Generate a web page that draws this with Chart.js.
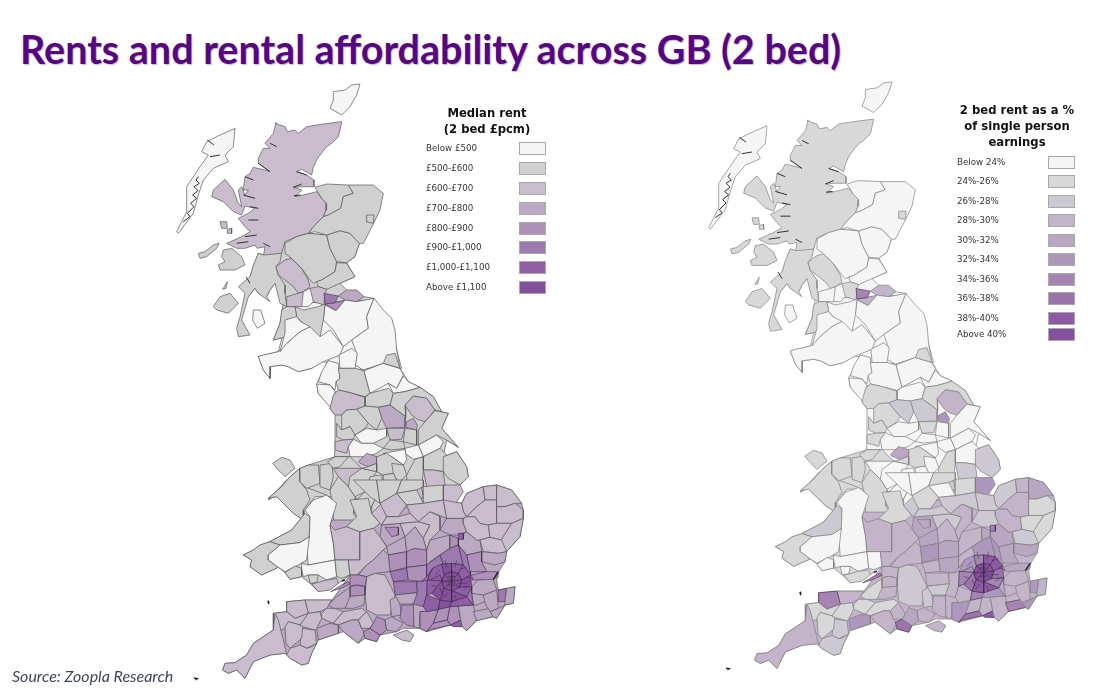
<!DOCTYPE html>
<html>
<head>
<meta charset="utf-8">
<title>Rents and rental affordability across GB (2 bed)</title>
<script src="https://cdn.jsdelivr.net/npm/chart.js@4"></script>
<style>
  html, body { margin: 0; padding: 0; background: #fff; }
  #page { position: relative; width: 1101px; height: 695px; overflow: hidden; }
  #page canvas { position: absolute; filter: blur(0.45px); }
  .title { position: absolute; white-space: nowrap; color: #57067f;
    font: bold 39.5px/48px Lato, sans-serif; text-shadow: 1px 1px 1px rgba(90,60,120,.35); }
  .source { position: absolute; white-space: nowrap; color: #3b4656;
    font: italic 16px/20px Lato, sans-serif; filter: blur(0.25px); }
  .legendTitle { position: absolute; text-align: center; color: #111;
    font: bold 11.6px/16px "DejaVu Sans", sans-serif; transform: translateX(-50%); white-space: nowrap; filter: blur(0.3px); }
  .legendLabel { position: absolute; color: #333; white-space: nowrap; font: 8.7px/12px "DejaVu Sans", sans-serif; filter: blur(0.3px); }
  .legendBox { position: absolute; width: 25px; height: 11px; border: 1px solid #a8a8a8; filter: blur(0.3px); }
</style>
</head>
<body>
<div id="page"></div>
<script>
// legend text
const rentLabels = ['Below £500', '£500-£600', '£600-£700', '£700-£800', '£800-£900', '£900-£1,000', '£1,000-£1,100', 'Above £1,100']
const shareLabels = ['Below 24%', '24%-26%', '26%-28%', '28%-30%', '30%-32%', '32%-34%', '34%-36%', '36%-38%', '38%-40%', 'Above 40%']

// band colours, lowest to highest
const rentColours = ['#f5f5f5', '#d0d0d0', '#c8bccd', '#bba8c3', '#ae90b9', '#9c7ab0', '#8f5fa6', '#85509b']
const shareColours = ['#f5f5f5', '#d8d8d8', '#cdc9d2', '#c4b4ca', '#b9a6c2', '#ae97bd', '#a584b3', '#9a74ab', '#8d5ba3', '#85509c']

// district outlines, one list per traced sheet
// each sheet is x,y in sheet units, 3 units = 1 map unit
const northOrigin = [170, 80]
const midOrigin = [240, 300]
const southOrigin = [210, 480]

// land under the districts, so no gaps show between them
const northBase = ['282,525 345,490 415,460 470,465 568,490 555,530 530,548 555,590 510,610 530,630 582,650 612,655 590,710 545,780 460,720 415,750 350,770 310,780 330,730 345,640 315,610 300,630 290,650 265,640 255,625 235,650 240,590 265,520']
const northBaseRent = [1]
const northBaseShare = [0]
const midBase = [
  '175,10 400,0 430,40 455,90 470,150 485,205 430,200 345,210 300,240 285,190 245,185 215,205 175,215 145,200 125,195 90,200 90,235 70,210 55,170 115,155 140,60',
  '230,252 265,182 300,205 372,212 480,205 505,245 540,262 490,285 390,290 285,275 275,325 235,280',
  '270,325 285,285 375,290 540,262 580,290 605,335 625,340 605,385 655,442 620,420 610,470 650,455 680,500 685,530 660,555 640,620 360,660 340,640 270,570 280,505 285,450 285,345',
  '150,530 180,505 205,495 285,470 330,470 365,505 345,590 360,660 190,660 160,640 110,590 85,595 125,560'
]
const midBaseRent = [0, 0, 1, 1]
const midBaseShare = [0, 0, 0, 1]
const southBase = [
  '175,60 215,35 245,40 255,100 285,100 245,150 180,185 150,195 130,210 100,225 125,240 120,260 155,285 205,262 225,278 240,298 275,290 300,310 325,335 385,310 420,285 420,100 380,70 350,45 230,0',
  '355,375 365,360 285,360 230,365 230,395 190,400 190,450 130,490 110,525 75,548 45,550 38,570 55,580 80,570 105,595 120,565 130,545 180,525 225,520 240,535 275,555 295,550 305,520 320,490 325,480 385,460 400,455 445,490 465,475 500,485 510,465 560,455 580,445 628,445 650,455 722,435 757,440 770,452 800,422 850,410 860,415 885,375 910,370 915,320 865,330 860,300 868,272 885,245 890,215 930,170 940,115 940,90 935,70 905,30 860,15 820,20 770,40 755,70 700,60 620,50 480,50 420,60 380,70 360,135 375,240 420,285'
]
const southBaseRent = [1, 3]
const southBaseShare = [1, 3]

const northPaths = [
  '490,35 525,30 545,15 570,12 560,45 540,80 515,105 480,85 490,60',
  '195,145 190,200 165,225 175,245 130,265 100,300 85,345 70,400 25,460 20,455 50,395 50,320 90,260 115,225 95,215 110,185 150,165',
  '315,128 330,135 345,140 352,155 375,150 385,160 410,140 440,135 475,130 515,125 510,150 505,170 485,190 470,200 450,225 440,240 430,262 425,285 395,268 380,275 410,285 432,300 432,320 400,320 370,322 395,330 375,350 400,345 440,335 455,355 470,370 468,390 460,410 435,435 415,460 380,470 345,485 335,520 300,528 280,530 285,500 262,505 255,495 225,505 200,505 170,490 215,470 240,455 225,440 205,415 235,400 255,385 225,378 215,405 190,395 160,365 125,350 130,330 165,298 190,330 205,370 215,380 205,330 215,320 225,345 235,330 220,330 225,290 240,280 250,262 285,270 300,275 265,250 265,235 280,205 300,205 285,190 310,160 318,130',
  '150,425 170,425 172,445 155,445',
  '172,448 185,445 185,460 172,460',
  '85,520 105,515 130,495 147,490 140,505 110,530 90,535',
  '160,510 185,505 215,530 225,555 195,570 150,570 145,555 165,545 155,530',
  '130,680 150,650 180,640 205,670 175,700 140,690',
  '158,628 172,605 168,625',
  '282,525 335,520 330,545 318,560 325,585 345,615 345,640 350,680 330,670 315,610 300,630 290,650 300,665 265,640 255,625 235,650 215,720 240,765 205,770 200,745 210,710 225,640 205,620 240,590 250,555 265,520',
  '318,560 345,540 365,535 395,565 415,600 420,620 400,635 385,640 370,620 345,600 325,585',
  '345,490 380,470 415,460 470,465 480,505 500,545 495,575 455,600 430,610 420,600 395,565 365,535 345,520',
  '470,465 510,452 540,460 568,490 555,530 530,548 500,545 480,505',
  '500,548 530,550 555,590 510,610 470,628 445,620 440,605 455,600 495,575',
  '435,322 470,312 535,315 550,340 520,350 512,385 475,405 460,410 468,390 470,370 455,355',
  '535,315 610,315 640,340 630,390 610,432 580,490 568,490 540,460 510,452 470,465 435,455 415,460 435,435 460,410 475,405 512,385 520,350 550,340',
  '590,405 612,405 610,430 588,425',
  '420,625 445,620 470,628 465,640 462,675 430,665 415,650',
  '465,672 495,668 525,660 498,692',
  '462,640 505,648 495,668 465,672',
  '505,648 530,630 560,630 582,650 560,665 525,660',
  '465,675 498,692 525,660 560,665 612,655 590,710 595,745 545,780 520,800 490,750 460,720',
  '612,655 640,690 665,715 675,750 680,810 690,865 640,850 580,870 555,855 560,820 545,780 595,745 590,710',
  '375,680 400,690 445,680 465,672 460,720 450,772 415,750 380,710',
  '350,650 385,640 400,635 410,640 395,680 375,680 350,680',
  '400,635 420,625 430,665 415,680 395,680',
  '350,680 375,680 380,710 360,730 350,770 310,780 330,730 335,690',
  '250,690 272,690 285,730 262,745 248,720'
]
const northRent = [0, 0, 2, 2, 2, 1, 1, 1, 1, 1, 2, 1, 1, 1, 1, 1, 1, 2, 4, 5, 3, 0, 0, 1, 2, 0, 1, 0]
const northShare = [0, 0, 1, 1, 1, 1, 1, 1, 1, 1, 1, 0, 0, 0, 0, 0, 1, 1, 3, 6, 3, 0, 0, 0, 0, 0, 1, 0]

const midPaths = [
  '210,80 240,110 270,90 310,140 300,165 250,185 215,205 175,215 145,200 125,195 90,200 90,235 70,210 55,170 70,165 115,155 140,130 180,95',
  '135,60 170,50 182,65 210,80 180,95 140,130 120,155 135,100',
  '297,165 335,145 352,160 345,205 300,205',
  '265,182 295,190 300,235 288,245 285,270 270,255 235,245 245,215',
  '230,252 270,255 285,275 275,325 260,310 235,280',
  '295,205 345,205 372,212 390,280 375,290 330,278 295,270 288,245 300,235',
  '372,212 430,190 480,205 490,225 470,265 445,250 390,280',
  '430,190 440,165 465,160 480,205',
  '445,250 470,265 490,228 505,245 540,262 495,275 460,280',
  '375,292 390,280 445,265 460,280 450,315 415,322 375,318',
  '280,285 295,270 330,278 375,292 375,318 350,328 320,330 305,345 285,345 270,325',
  '450,315 460,280 495,275 540,262 580,290 605,335 585,330 560,295 520,288 495,315 497,350',
  '495,315 520,288 560,295 585,330 555,365 532,358 515,345',
  '415,322 450,315 497,350 495,382 440,385 425,355',
  '497,382 500,365 520,355 532,375 530,390',
  '535,390 555,365 585,332 625,340 605,385 640,425 655,442 620,420 590,405 535,435',
  '350,328 375,318 415,322 425,355 410,390 385,370',
  '305,345 320,330 350,328 385,370 375,385 345,405 330,380 305,390',
  '380,385 410,390 440,385 440,410 400,430 365,430 345,405',
  '440,385 495,385 485,418 450,420',
  '495,385 530,390 530,435 490,425',
  '290,370 305,390 330,380 345,405 340,418 310,420 290,410',
  '285,425 310,420 340,418 325,440 320,460 285,450',
  '325,440 340,418 365,430 400,430 430,445 410,460 380,470 330,470',
  '430,445 450,420 490,425 495,445 455,450',
  '535,435 590,405 610,425 600,445 550,470',
  '495,445 535,435 550,470 520,478 495,460',
  '430,460 495,448 500,480 490,495 455,470',
  '550,470 600,445 620,465 610,515 580,510 550,510',
  '610,470 650,455 680,500 685,530 660,555 625,535 610,515',
  '355,485 380,460 410,470 410,490 385,500 360,490',
  '98,490 125,472 150,480 165,505 135,530 115,510',
  '85,595 125,560 150,530 180,505 180,545 200,570 210,600 190,630 190,660 160,640 130,610 110,590',
  '180,505 205,495 235,495 240,550 200,565 180,545',
  '240,495 275,490 280,530 270,570 240,560',
  '262,485 285,470 325,470 300,500 280,505',
  '280,505 365,505 325,560 295,530',
  '270,570 295,530 325,560 345,590 340,640 360,660 280,660 275,600',
  '330,530 365,505 410,515 390,545 375,575 345,590 325,560',
  '195,630 225,590 275,590 280,660 190,660',
  '410,470 440,460 455,470 490,495 460,520 430,525 410,515',
  '365,505 385,500 410,490 410,515',
  '390,530 425,525 430,565 410,590 380,575',
  '455,490 490,495 500,525 475,550 460,520',
  '430,525 460,520 475,550 470,590 445,610 430,565',
  '500,525 525,478 550,470 550,510 545,560 510,565 500,545',
  '550,510 580,510 610,515 615,555 590,575 560,560',
  '470,590 495,590 510,565 545,560 550,590 495,625 475,620',
  '545,560 590,575 600,610 560,620 550,590',
  '615,555 660,555 670,575 640,620 610,610 590,575',
  '350,600 375,575 410,590 395,620 365,630',
  '395,620 410,590 430,565 445,610 430,640 395,650',
  '340,640 365,630 395,650 380,665 355,660'
]
const midRent = [0, 0, 0, 0, 0, 1, 0, 1, 0, 1, 2, 1, 2, 3, 3, 1, 1, 1, 0, 2, 1, 1, 2, 0, 1, 0, 0, 0, 1, 1, 3, 1, 1, 1, 1, 1, 2, 1, 1, 0, 1, 1, 1, 1, 1, 1, 2, 2, 1, 2, 1, 1, 1]
const midShare = [0, 0, 0, 0, 0, 0, 0, 1, 0, 0, 1, 1, 3, 2, 5, 0, 2, 1, 0, 1, 0, 1, 1, 0, 0, 0, 0, 0, 0, 2, 4, 1, 1, 1, 1, 1, 0, 1, 0, 0, 1, 1, 0, 0, 0, 1, 2, 2, 2, 5, 0, 0, 1]

const southPaths = [
  '180,185 245,150 285,100 300,110 298,170 270,188 210,195',
  '285,90 310,60 350,45 380,70 360,135 370,190 375,240 295,255 290,200 298,170 300,110',
  '100,225 130,210 150,195 180,185 210,195 175,225 175,240 205,262 155,285 120,260 125,240',
  '175,225 210,195 270,188 298,170 290,240 265,255 225,275 205,262 175,240',
  '225,278 255,258 275,265 275,290 240,298',
  '275,250 295,255 375,240 380,290 350,300 325,285 295,285 280,290 275,265',
  '295,285 325,285 320,308 300,310',
  '305,312 320,308 350,300 380,295 385,310 360,330 325,335',
  '370,190 360,135 375,150 410,140 450,155 450,240 415,240 375,240',
  '375,240 415,240 420,285 395,295 380,290',
  '420,60 475,55 485,100 510,130 490,145 450,155 410,140 440,110',
  '485,100 515,70 530,110 515,135 510,130',
  '450,155 490,145 510,170 530,200 520,210 490,240 470,255 440,285 420,285 415,240 450,240',
  '515,135 570,130 585,170 535,205 510,170',
  '525,142 565,142 565,165 545,170',
  '530,200 585,170 590,215 535,225',
  '535,225 590,215 590,262 540,275',
  '490,240 520,210 535,225 540,275 495,280 470,290 445,285 470,255',
  '540,275 590,265 595,300 550,305',
  '550,305 620,305 622,338 555,345',
  '590,215 612,205 650,210 650,255 590,262',
  '590,262 650,255 650,290 635,305 595,300',
  '585,170 615,140 640,175 650,210 612,205 590,215',
  '570,130 625,125 660,135 640,175 615,140 585,170',
  '625,125 660,95 690,110 690,150 660,180 650,210 640,175 660,135',
  '650,210 660,180 720,165 720,205 690,225 660,245 650,255',
  '690,150 710,115 760,115 760,130 770,155 745,165 720,165',
  '770,155 800,180 810,180 815,215 770,225 745,195 745,175',
  '720,165 745,175 745,195 720,205',
  '760,115 770,110 795,110 810,130 835,135 840,172 810,180 800,180 770,155 760,130',
  '755,70 770,40 820,20 825,60 800,80 770,110 760,95',
  '825,60 820,20 860,15 860,60',
  '800,80 825,60 860,60 860,130 835,135 810,130 795,110 770,110',
  '860,60 860,15 905,30 935,70 915,70 885,80 860,80',
  '860,80 885,80 915,70 940,90 940,115 905,130 860,130',
  '835,135 860,130 905,130 875,180 840,172',
  '905,130 940,115 930,170 890,215 870,185',
  '810,180 840,172 875,180 890,215 865,220 820,215',
  '815,215 865,220 890,215 885,245 855,255 815,245',
  '770,225 815,215 815,245 830,275 780,275',
  '785,285 830,275 860,275 865,290 845,300 805,300 787,300',
  '470,290 495,280 525,285 555,345 540,405 500,405 470,390 465,340',
  '420,285 445,285 470,290 465,320 440,315 420,320',
  '362,335 395,315 415,305 420,312 392,325',
  '420,320 440,315 465,320 465,345 420,350',
  '410,350 465,345 462,375 430,385 405,385',
  '380,350 420,322 420,350 405,385 370,385 355,375',
  '285,360 365,360 350,385 330,395 295,400',
  '230,365 285,360 295,400 255,415 230,395',
  '335,400 350,385 375,385 400,395 370,430 335,415',
  '370,430 400,395 455,385 470,395 445,420 425,420 385,435',
  '320,445 360,430 385,435 385,460 325,480',
  '275,445 315,450 320,490 290,505 270,495',
  '190,400 230,395 255,415 295,400 290,410 270,435 235,425 225,445 205,455',
  '225,440 235,425 270,435 278,440 275,475 240,505 228,490',
  '270,435 295,400 330,395 335,415 320,445 315,450 278,440',
  '38,570 45,550 75,548 110,525 130,490 190,450 195,400 205,420 225,500 230,525 225,520 180,525 130,545 120,565 105,595 80,570 55,580',
  '230,525 240,505 270,495 290,505 305,500 320,490 305,520 295,550 275,555 240,535',
  '385,435 425,420 445,420 455,445 465,460 445,490 400,455',
  '445,420 470,395 490,430 480,445 455,445',
  '460,455 480,445 510,465 500,485 465,475',
  '480,445 490,430 500,410 525,420 530,450 510,465',
  '525,420 545,410 580,430 560,455 530,450',
  '550,465 590,450 612,465 600,485 575,480',
  '540,360 565,345 575,405 545,410',
  '555,345 622,338 620,372 570,372',
  '575,375 610,375 612,440 590,435 570,415',
  '610,372 640,365 650,395 630,395 628,445 612,440',
  '630,395 685,390 670,430 650,455 630,445',
  '685,388 720,380 712,420 670,430',
  '650,455 670,430 712,420 722,435 660,448',
  '720,380 745,378 752,420 722,435 712,420',
  '722,435 752,420 757,440 730,440',
  '745,378 790,375 800,420 770,452 757,440 752,420',
  '790,395 840,385 850,410 800,422',
  '785,340 830,335 835,360 800,375 790,375',
  '820,345 860,330 865,385 840,395 825,370',
  '865,330 890,325 885,365 865,365',
  '890,325 915,320 910,370 885,375 885,365',
  '840,395 865,385 885,375 860,415 850,410',
  '805,300 850,298 860,330 820,345 785,340 785,320',
  '745,160 760,160 760,178 746,178',
  '430,0 500,0 510,70 480,50',
  '500,0 575,0 560,40 510,70',
  '575,0 640,0 640,20 620,30 560,40',
  '640,20 700,15 700,60 640,70',
  '510,70 560,40 590,75 565,110 530,110',
  '560,40 620,30 640,70 590,75',
  '640,70 700,60 710,115 660,95 625,125 600,100 590,75',
  '530,110 565,110 600,100 625,125 570,130 515,135',
  '700,60 755,70 760,95 770,110 760,115 710,115'
]
const southRent = [1, 0, 1, 0, 1, 0, 1, 2, 2, 1, 1, 2, 2, 3, 4, 3, 4, 3, 5, 5, 4, 4, 3, 2, 2, 3, 3, 3, 4, 2, 2, 2, 2, 2, 2, 2, 2, 2, 3, 4, 4, 2, 4, 4, 4, 3, 3, 2, 2, 2, 2, 3, 2, 2, 2, 2, 2, 2, 3, 2, 4, 4, 3, 2, 3, 3, 4, 3, 4, 4, 4, 4, 6, 3, 3, 3, 3, 5, 3, 3, 3, 6, 1, 1, 1, 1, 2, 1, 2, 2, 2]
const southShare = [2, 0, 1, 0, 0, 0, 0, 1, 3, 0, 1, 2, 3, 4, 4, 4, 5, 3, 3, 3, 4, 4, 3, 2, 3, 3, 2, 4, 4, 3, 2, 3, 3, 4, 1, 1, 1, 2, 4, 4, 4, 2, 3, 6, 3, 3, 1, 3, 6, 1, 1, 5, 2, 1, 1, 1, 3, 2, 3, 3, 7, 4, 3, 3, 2, 2, 3, 3, 5, 3, 7, 3, 8, 3, 6, 3, 3, 5, 3, 5, 3, 6, 0, 0, 1, 1, 1, 0, 2, 2, 2]

// Greater London, drawn on top of the south sheet
const londonPaths = [
  '622,338 620,305 652,300 650,345 640,380 610,372',
  '635,305 650,290 668,265 652,300',
  '650,255 690,225 700,252 668,265 650,290',
  '690,225 720,205 745,195 760,255 725,250 700,252',
  '745,195 770,225 780,275 782,285 760,255',
  '640,380 650,345 690,360 685,388 650,395',
  '690,360 725,365 720,380 685,388',
  '725,365 770,350 790,375 745,378 720,380',
  '770,350 785,320 785,340 790,375',
  '652,300 668,265 695,252 703,283 695,303',
  '695,252 725,250 725,275 703,283',
  '725,250 760,255 745,280 725,275',
  '760,255 782,285 755,300 745,280',
  '782,285 785,320 748,322 755,300',
  '785,320 770,350 725,332 748,322',
  '770,350 725,365 725,332',
  '725,365 690,360 702,325 725,332',
  '690,360 665,340 695,303 702,325',
  '665,340 650,345 652,300 695,303',
  '725,303 725,275 745,280',
  '725,303 745,280 755,300',
  '725,303 755,300 748,322',
  '725,303 748,322 725,332',
  '725,303 725,332 702,325',
  '725,303 702,325 695,303',
  '725,303 695,303 703,283',
  '725,303 703,283 725,275'
]
const londonRent = [5, 5, 5, 5, 5, 6, 7, 6, 5, 6, 7, 6, 6, 7, 6, 7, 7, 7, 6, 7, 7, 7, 7, 7, 7, 7, 7]
const londonShare = [3, 3, 3, 5, 5, 3, 6, 5, 4, 5, 6, 8, 8, 7, 6, 8, 8, 7, 6, 9, 9, 9, 9, 9, 9, 9, 9]

// extra borough edges inside London
const londonLines = ['660,300 690,285 700,310', '735,262 740,240', '770,290 790,295', '760,330 775,320', '735,345 740,360', '700,345 690,325', '680,320 665,315', '675,285 690,270', '710,262 705,240', '750,268 770,262', '745,310 770,310', '712,340 700,355', '715,290 735,290', '715,315 735,315']

// sea lochs and the black flecks on the Hebrides, Lundy, Scilly and the Thames mouth
const northFlecks = ['85,290 78,300 88,310 72,320 84,332 68,345 80,355 62,370 72,380 52,400 60,410 40,425', '112,180 132,195', '120,230 150,225', '300,190 320,200', '265,250 300,275', '225,290 250,300', '220,345 255,355', '240,380 265,385', '235,420 265,420', '225,470 260,465', '200,490 235,485', '280,490 300,500', '380,275 410,285', '370,322 395,312', '372,347 392,345', '228,590 240,610']
const southFlecks = ['850,298 865,275', '395,303 405,300', '174,362 176,372', '-48,594 -38,596 -44,600']

function toPoints(origin, path) {
  const pts = path.split(' ').map(p => {
    const xy = p.split(',')
    return { x: origin[0] + xy[0] / 3, y: origin[1] + xy[1] / 3 }
  })
  return pts
}

function regionDataset(origin, path, band, colours, line) {
  const pts = toPoints(origin, path)
  pts.push(pts[0])
  return {
    data: pts,
    showLine: true,
    fill: 'shape',
    backgroundColor: colours[band],
    borderColor: band >= colours.length - 4 ? 'rgba(55,40,65,.8)' : line,
    borderWidth: band >= colours.length - 4 ? 0.7 : 0.8,
    pointRadius: 0,
    tension: 0
  }
}

function lineDataset(origin, path, colour, width) {
  return {
    data: toPoints(origin, path),
    showLine: true,
    fill: false,
    borderColor: colour,
    borderWidth: width,
    pointRadius: 0,
    tension: 0
  }
}

function buildDatasets(sheets, colours, line) {
  const sets = []
  sheets.forEach(s => {
    s.paths.forEach((path, i) => sets.push(regionDataset(s.origin, path, s.bands[i], colours, line)))
  })
  londonLines.forEach(p => sets.push(lineDataset(southOrigin, p, 'rgba(55,40,65,.75)', 0.7)))
  northFlecks.forEach(p => sets.push(lineDataset(northOrigin, p, '#333', 1)))
  southFlecks.forEach(p => sets.push(lineDataset(southOrigin, p, '#222', 1.4)))
  return sets.reverse() // first dataset is painted last
}

function drawMap(box, range, sets) {
  const page = document.getElementById('page')
  const cv = document.createElement('canvas')
  cv.width = box.w
  cv.height = box.h
  cv.style.left = box.x + 'px'
  cv.style.top = box.y + 'px'
  cv.style.width = box.w + 'px'
  cv.style.height = box.h + 'px'
  page.appendChild(cv)
  return new Chart(cv, {
    type: 'scatter',
    data: { datasets: sets },
    options: {
      responsive: false,
      animation: false,
      layout: { padding: 0 },
      plugins: { legend: { display: false }, tooltip: { enabled: false } },
      scales: {
        x: { type: 'linear', display: false, min: range.x0, max: range.x1 },
        y: { type: 'linear', display: false, min: range.y0, max: range.y1, reverse: true }
      }
    }
  })
}

function addText(cls, text, x, y) {
  const el = document.createElement('div')
  el.className = cls
  el.textContent = text
  el.style.left = x + 'px'
  el.style.top = y + 'px'
  document.getElementById('page').appendChild(el)
}

function addLegend(titles, titleX, titleY, labels, colours, textX, boxX, rows) {
  titles.forEach((t, i) => addText('legendTitle', t, titleX, titleY + i * 16))
  labels.forEach((t, i) => {
    addText('legendLabel', t, textX, rows[i] - 6)
    const b = document.createElement('div')
    b.className = 'legendBox'
    b.style.left = boxX + 'px'
    b.style.top = (rows[i] - 6) + 'px'
    b.style.background = colours[i]
    document.getElementById('page').appendChild(b)
  })
}

addText('title', 'Rents and rental affordability across GB (2 bed)', 20, 25)
addText('source', 'Source: Zoopla Research', 12, 666)

drawMap({ x: 160, y: 80, w: 370, h: 615 }, { x0: 160, x1: 530, y0: 80, y1: 695 }, buildDatasets([
  { origin: northOrigin, paths: northBase, bands: northBaseRent },
  { origin: midOrigin, paths: midBase, bands: midBaseRent },
  { origin: southOrigin, paths: southBase, bands: southBaseRent },
  { origin: northOrigin, paths: northPaths, bands: northRent },
  { origin: midOrigin, paths: midPaths, bands: midRent },
  { origin: southOrigin, paths: southPaths, bands: southRent },
  { origin: southOrigin, paths: londonPaths, bands: londonRent }
], rentColours, 'rgba(85,85,85,.85)'))

// the right hand map sits a little higher and is squashed slightly
drawMap({ x: 692, y: 78, w: 370, h: 617 }, { x0: 160, x1: 530, y0: 80, y1: 705.3 }, buildDatasets([
  { origin: northOrigin, paths: northBase, bands: northBaseShare },
  { origin: midOrigin, paths: midBase, bands: midBaseShare },
  { origin: southOrigin, paths: southBase, bands: southBaseShare },
  { origin: northOrigin, paths: northPaths, bands: northShare },
  { origin: midOrigin, paths: midPaths, bands: midShare },
  { origin: southOrigin, paths: southPaths, bands: southShare },
  { origin: southOrigin, paths: londonPaths, bands: londonShare }
], shareColours, 'rgba(125,125,125,.85)'))

addLegend(['Median rent', '(2 bed £pcm)'], 487, 105, rentLabels, rentColours, 426, 519,
  [148, 168, 188, 208, 228, 247, 267, 287])
addLegend(['2 bed rent as a %', 'of single person', 'earnings'], 1017, 102, shareLabels, shareColours, 957, 1048,
  [162, 181, 201, 220, 240, 259, 279, 298, 318, 334])
</script>
</body>
</html>
